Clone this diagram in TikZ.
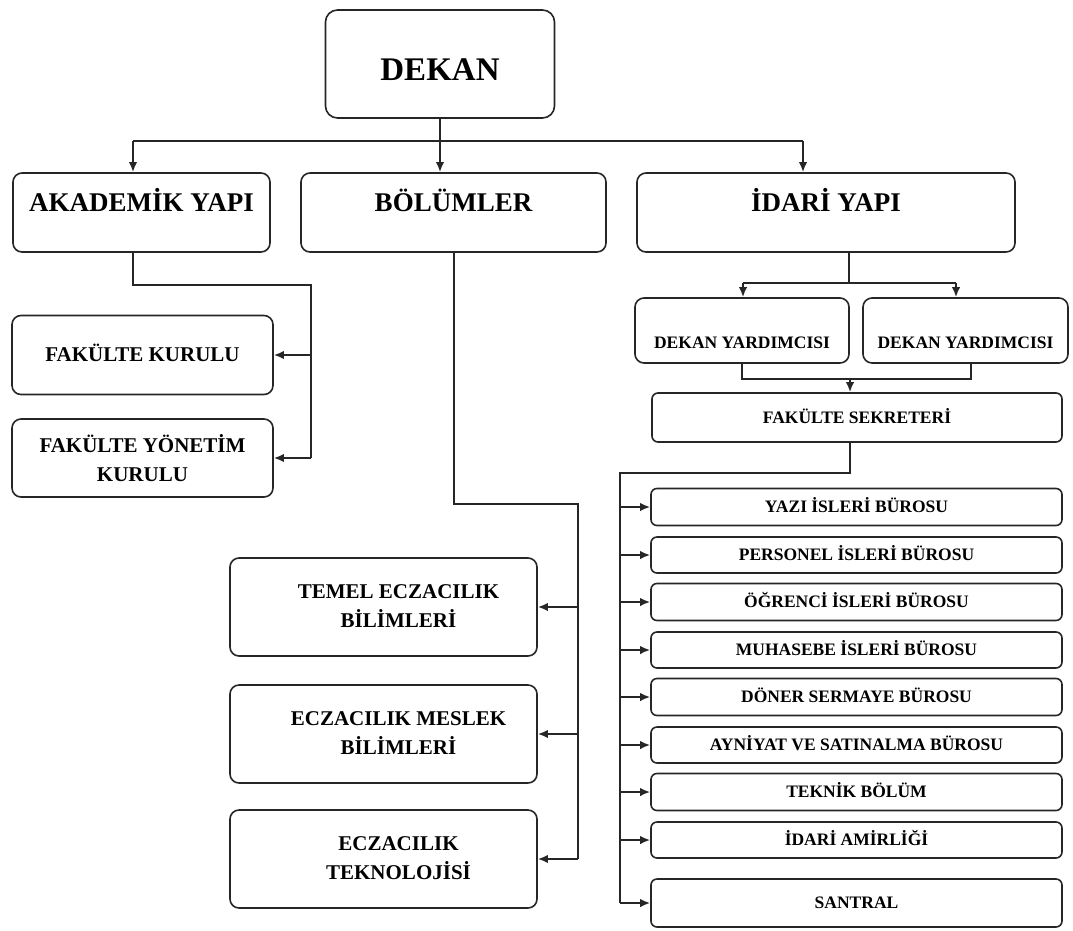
\documentclass[tikz,border=0pt]{standalone}
\usepackage{fontspec}
\setmainfont{Liberation Serif}
\usetikzlibrary{arrows.meta}
\begin{document}
\begin{tikzpicture}[x=1pt,y=-1pt,
  box/.style={draw=black!85, line width=1.6pt, rounded corners=9pt, inner sep=0pt, fill=white},
  big/.style={box, minimum height=79pt, text height=18pt, text depth=21pt, font=\fontsize{27}{32}\selectfont\bfseries},
  mid/.style={box, font=\fontsize{21}{29}\selectfont\bfseries},
  sm/.style={box, rounded corners=6pt, font=\fontsize{17.5}{20}\selectfont\bfseries, text height=11.6pt, text depth=0pt},
  lst/.style={sm, minimum width=411pt},
  ln/.style={line width=2pt, draw=black!85},
  arr/.style={ln, arrows={-Latex[length=10pt,width=8.5pt]}}]
\path[use as bounding box] (0,0) rectangle (1073,930);
\fill[white] (0,0) rectangle (1073,930);

% top
\node[box, rounded corners=12pt, minimum width=229pt, minimum height=108pt, text height=32pt, text depth=0pt, font=\fontsize{33}{40}\selectfont\bfseries] (dekan) at (440,64) {DEKAN};
\node[big, minimum width=257pt] (akad) at (141.5,212.5) {AKADEMİK YAPI};
\node[big, minimum width=305pt] (bolum) at (453.5,212.5) {BÖLÜMLER};
\node[big, minimum width=378pt] (idari) at (826,212.5) {İDARİ YAPI};

% left column
\node[mid, minimum width=261pt, minimum height=79pt, text height=13.9pt, text depth=0pt] (fk) at (142.5,355) {FAKÜLTE KURULU};
\node[mid, minimum width=261pt, minimum height=78pt, align=center] (fy) at (142.5,458) {FAKÜLTE YÖNETİM\\KURULU};

% departments
\node[mid, minimum width=307pt, minimum height=98pt] (temel) at (383.5,607) {\hspace*{30pt}\begin{tabular}{@{}c@{}}TEMEL ECZACILIK\\BİLİMLERİ\end{tabular}};
\node[mid, minimum width=307pt, minimum height=98pt] (meslek) at (383.5,734) {\hspace*{30pt}\begin{tabular}{@{}c@{}}ECZACILIK MESLEK\\BİLİMLERİ\end{tabular}};
\node[mid, minimum width=307pt, minimum height=98pt] (tekno) at (383.5,859) {\hspace*{30pt}\begin{tabular}{@{}c@{}}ECZACILIK\\TEKNOLOJİSİ\end{tabular}};

% administrative
\node[sm, rounded corners=9pt, minimum width=214pt, minimum height=65pt, text height=35pt] (dy1) at (742,330.5) {DEKAN YARDIMCISI};
\node[sm, rounded corners=9pt, minimum width=205pt, minimum height=65pt, text height=35pt] (dy2) at (965.5,330.5) {DEKAN YARDIMCISI};
\node[sm, minimum width=410pt, minimum height=49pt] (fs) at (857,417.5) {FAKÜLTE SEKRETERİ};
\node[lst, minimum height=37pt] (yazi) at (856.5,507) {YAZI İSLERİ BÜROSU};
\node[lst, minimum height=36pt] (pers) at (856.5,555) {PERSONEL İSLERİ BÜROSU};
\node[lst, minimum height=37pt] (ogr) at (856.5,602) {ÖĞRENCİ İSLERİ BÜROSU};
\node[lst, minimum height=36pt] (muh) at (856.5,650) {MUHASEBE İSLERİ BÜROSU};
\node[lst, minimum height=37pt] (don) at (856.5,697) {DÖNER SERMAYE BÜROSU};
\node[lst, minimum height=36pt] (ayn) at (856.5,745) {AYNİYAT VE SATINALMA BÜROSU};
\node[lst, minimum height=37pt] (tek) at (856.5,792) {TEKNİK BÖLÜM};
\node[lst, minimum height=36pt] (ida) at (856.5,840) {İDARİ AMİRLİĞİ};
\node[lst, minimum height=48pt] (san) at (856.5,903) {SANTRAL};

% connectors: top
\coordinate (jl) at (133,141);
\coordinate (jr) at (803,141);
\draw[ln] (jl) -- (jr);
\draw[arr] (dekan.south) -- (dekan.south |- bolum.north);
\draw[arr] (jl) -- (jl |- akad.north);
\draw[arr] (jr) -- (jr |- idari.north);

% akademik
\coordinate (a1) at (133,285);
\coordinate (a2) at (311,285);
\draw[ln] (a1 |- akad.south) -- (a1) -- (a2) -- (a2 |- fy.east);
\draw[arr] (a2 |- fk.east) -- (fk.east);
\draw[arr] (a2 |- fy.east) -- (fy.east);

% bolumler
\coordinate (b1) at (454,504);
\coordinate (b2) at (578,504);
\draw[ln] (b1 |- bolum.south) -- (b1) -- (b2) -- (b2 |- tekno.east);
\draw[arr] (b2 |- temel.east) -- (temel.east);
\draw[arr] (b2 |- meslek.east) -- (meslek.east);
\draw[arr] (b2 |- tekno.east) -- (tekno.east);

% idari
\coordinate (i1) at (849,283);
\coordinate (il) at (743,283);
\coordinate (ir) at (956,283);
\draw[ln] (i1 |- idari.south) -- (i1);
\draw[ln] (il) -- (ir);
\draw[arr] (il) -- (il |- dy1.north);
\draw[arr] (ir) -- (ir |- dy2.north);

\coordinate (d1) at (742,379);
\coordinate (d2) at (971,379);
\coordinate (dm) at (850,379);
\draw[ln] (d1 |- dy1.south) -- (d1) -- (d2) -- (d2 |- dy2.south);
\draw[arr] (dm) -- (dm |- fs.north);

\coordinate (f1) at (850,473);
\coordinate (f2) at (620,473);
\draw[ln] (f1 |- fs.south) -- (f1) -- (f2) -- (f2 |- san.west);
\draw[arr] (f2 |- san.west) -- (san.west);
\foreach \n in {yazi,pers,ogr,muh,don,ayn,tek,ida}
  \draw[arr] (f2 |- \n.west) -- (\n.west);
\end{tikzpicture}
\end{document}
